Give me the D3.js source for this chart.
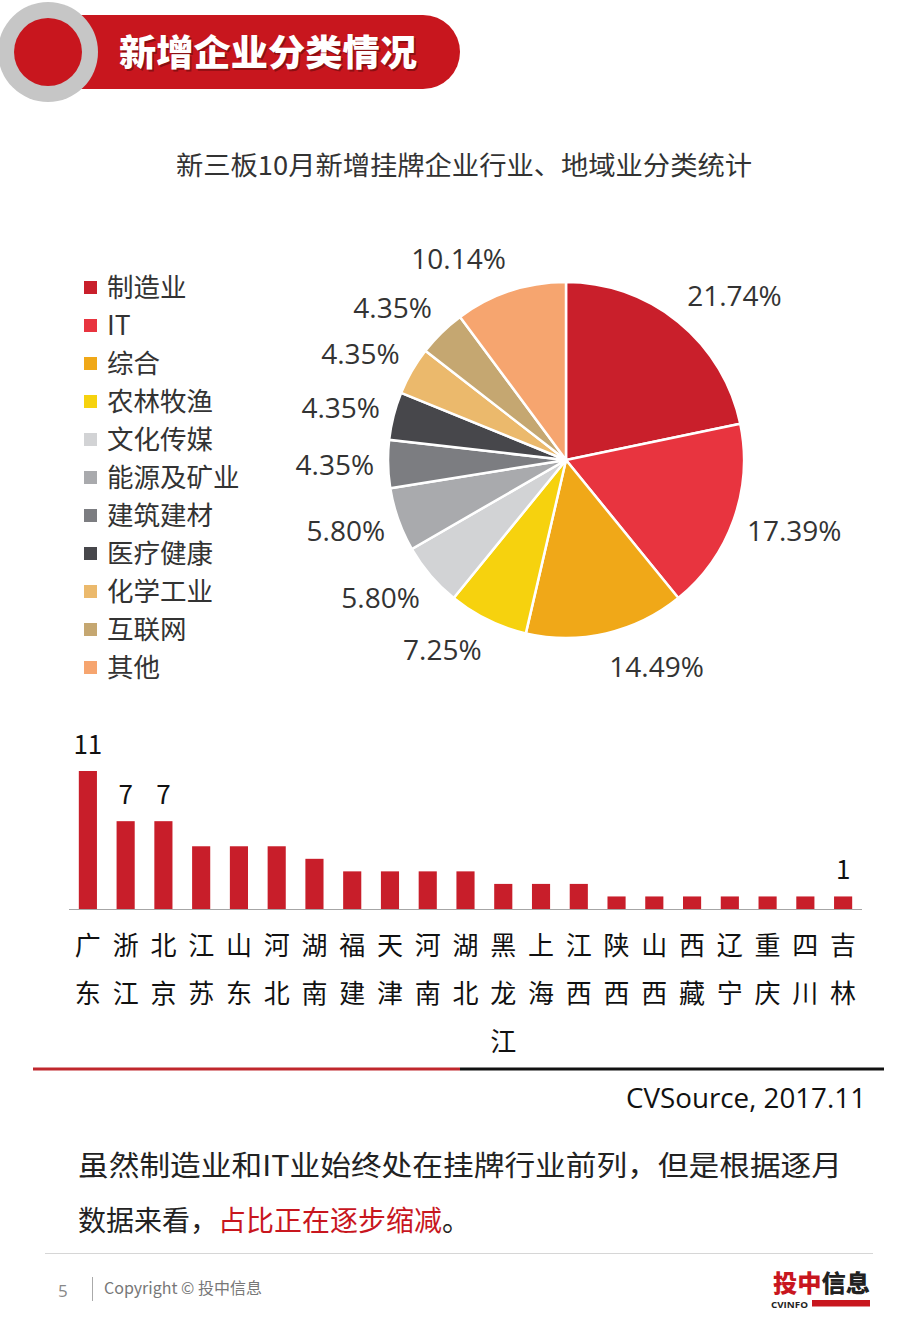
<!DOCTYPE html>
<html><head><meta charset="utf-8">
<script src="https://cdn.jsdelivr.net/npm/d3@7"></script>
<style>
html,body{margin:0;padding:0;background:#fff;}
svg{display:block;}
</style></head>
<body>
<svg id="c" width="920" height="1329"></svg>
<script>
// ---- data ----
const industries = ["制造业","IT","综合","农林牧渔","文化传媒","能源及矿业","建筑建材","医疗健康","化学工业","互联网","其他"];
const industryCounts = [15,12,10,5,4,4,3,3,3,3,7];
const industryColors = ["#c91f2b","#e8343f","#f0a818","#f6d20e","#d2d3d5","#a9aaad","#7c7d81","#47474b","#ebb96c","#c5a771","#f6a56f"];
const provinces = ["广东","浙江","北京","江苏","山东","河北","湖南","福建","天津","河南","湖北","黑龙江","上海","江西","陕西","山西","西藏","辽宁","重庆","四川","吉林"];
const provinceCounts = [11,7,7,5,5,5,4,3,3,3,3,2,2,2,1,1,1,1,1,1,1];
const labelledBars = ["广东","浙江","北京","吉林"];

const CJK = "'Noto Sans CJK SC','Noto Sans',sans-serif";
const NUM = "'Open Sans','Noto Sans',sans-serif";
const svg = d3.select("#c");

// ---- header ----
const hdr = svg.append("g");
hdr.append("path")
  .attr("d","M80,15 H423 A37,37 0 0 1 423,89 H80 Z")
  .attr("fill","#c8161e");
hdr.append("circle").attr("cx",48).attr("cy",52).attr("r",50).attr("fill","#c6c6c6");
hdr.append("circle").attr("cx",48).attr("cy",52).attr("r",34).attr("fill","#c8161e");
[["#5a0a0a",0.55,1.5],["#fff",1,0]].forEach(([c,o,off])=>{
  hdr.append("text").attr("x",119+off).attr("y",66+off)
    .attr("font-family",CJK).attr("font-weight",900).attr("font-size",36)
    .attr("textLength",298).attr("lengthAdjust","spacingAndGlyphs")
    .attr("fill",c).attr("opacity",o).text("新增企业分类情况");
});

// ---- chart title ----
svg.append("text").attr("x",464).attr("y",175).attr("text-anchor","middle")
  .attr("font-family",CJK).attr("font-size",26).attr("fill","#333")
  .attr("textLength",576).attr("lengthAdjust","spacingAndGlyphs")
  .text("新三板10月新增挂牌企业行业、地域业分类统计");

// ---- legend ----
const leg = svg.append("g");
const legY = d3.scalePoint().domain(industries).range([287,667]);
industries.forEach((name,i)=>{
  const y = legY(name);
  leg.append("rect").attr("x",84).attr("y",y-6).attr("width",13).attr("height",13).attr("fill",industryColors[i]);
  leg.append("text").attr("x",107).attr("y",y+10).attr("font-family",CJK).attr("font-size",26.5)
    .attr("fill","#333").text(name);
});

// ---- pie ----
const total = d3.sum(industryCounts);
const cx = 566, cy = 460, R = 178;
const pie = d3.pie().sort(null).value(d=>d.v);
const arcs = pie(industries.map((n,i)=>({n,v:industryCounts[i],c:industryColors[i]})));
const arc = d3.arc().innerRadius(0).outerRadius(R);
const pg = svg.append("g").attr("transform",`translate(${cx},${cy})`);
pg.selectAll("path").data(arcs).join("path")
  .attr("d",arc).attr("fill",d=>d.data.c).attr("stroke","#fff").attr("stroke-width",2.5);
const lbl = pg.selectAll("text").data(arcs).join("text")
  .attr("text-anchor","middle").attr("dy","0.36em")
  .attr("font-family",NUM).attr("font-size",28).attr("fill","#333")
  .text(d=>(d.data.v/total*100).toFixed(2)+"%");
lbl.each(function(d){
  const w = this.getComputedTextLength();
  const a = (d.startAngle+d.endAngle)/2;
  const s = Math.sin(a), c = Math.cos(a);
  const r = R + 14;
  const px = s*r + Math.sign(s)*w/2;
  const py = -c*r - c*20;
  d3.select(this).attr("x",px).attr("y",py);
});

// ---- bar chart ----
const x = d3.scaleBand().domain(provinces).range([69,862]).paddingInner(0.52).paddingOuter(0.26);
const y = d3.scaleLinear().domain([0,11]).range([909,771]);
const bg = svg.append("g");
bg.selectAll("rect").data(provinces).join("rect")
  .attr("x",d=>x(d)).attr("y",(d,i)=>y(provinceCounts[i]))
  .attr("width",x.bandwidth()).attr("height",(d,i)=>y(0)-y(provinceCounts[i]))
  .attr("fill","#c81e2a");
bg.append("line").attr("x1",69).attr("x2",862).attr("y1",909.5).attr("y2",909.5)
  .attr("stroke","#a6a6a6").attr("stroke-width",1.2);
provinces.forEach((p,i)=>{
  const xc = x(p)+x.bandwidth()/2;
  if(labelledBars.includes(p)){
    bg.append("text").attr("x",xc).attr("y",y(provinceCounts[i])-17).attr("text-anchor","middle")
      .attr("font-family",CJK).attr("font-size",26).attr("fill","#111").text(provinceCounts[i]);
  }
  const t = bg.append("text").attr("text-anchor","middle").attr("font-family",CJK)
    .attr("font-size",26).attr("fill","#111");
  Array.from(p).forEach((ch,k)=>{
    t.append("tspan").attr("x",xc).attr("y",955+k*48).text(ch);
  });
});

// ---- divider & source ----
svg.append("line").attr("x1",33).attr("x2",460).attr("y1",1069).attr("y2",1069).attr("stroke","#c0272d").attr("stroke-width",3);
svg.append("line").attr("x1",460).attr("x2",884).attr("y1",1069).attr("y2",1069).attr("stroke","#111").attr("stroke-width",3);
svg.append("text").attr("x",866).attr("y",1108).attr("text-anchor","end")
  .attr("font-family",NUM).attr("font-size",27).attr("fill","#111")
  .attr("textLength",240).attr("lengthAdjust","spacingAndGlyphs").text("CVSource, 2017.11");

// ---- paragraph ----
svg.append("text").attr("x",78).attr("y",1176).attr("font-family",CJK).attr("font-size",28)
  .attr("fill","#222").attr("textLength",764).attr("lengthAdjust","spacingAndGlyphs")
  .text("虽然制造业和IT业始终处在挂牌行业前列，但是根据逐月");
const p2 = svg.append("text").attr("x",78).attr("y",1231).attr("font-family",CJK).attr("font-size",28).attr("fill","#222");
p2.append("tspan").text("数据来看，");
p2.append("tspan").attr("fill","#c8161e").text("占比正在逐步缩减");
p2.append("tspan").text("。");

// ---- footer ----
svg.append("line").attr("x1",45).attr("x2",873).attr("y1",1253.5).attr("y2",1253.5).attr("stroke","#d6d6d6").attr("stroke-width",1);
svg.append("text").attr("x",58).attr("y",1297).attr("font-family",NUM).attr("font-size",17).attr("fill","#888").text("5");
svg.append("line").attr("x1",92.5).attr("x2",92.5).attr("y1",1277).attr("y2",1301).attr("stroke","#aaa");
svg.append("text").attr("x",104).attr("y",1294).attr("font-family",CJK).attr("font-size",16).attr("fill","#777").text("Copyright © 投中信息");
const logo = svg.append("g");
const lt = logo.append("text").attr("x",773).attr("y",1292).attr("font-family",CJK).attr("font-weight",900).attr("font-size",24)
  .attr("textLength",97).attr("lengthAdjust","spacingAndGlyphs");
lt.append("tspan").attr("fill","#c8161e").text("投中");
lt.append("tspan").attr("fill","#222").text("信息");
logo.append("text").attr("x",771).attr("y",1307.5).attr("font-family",NUM).attr("font-weight",700).attr("font-size",8.5)
  .attr("textLength",37).attr("lengthAdjust","spacingAndGlyphs").attr("fill","#222").text("CVINFO");
logo.append("rect").attr("x",812).attr("y",1300).attr("width",58).attr("height",6.5).attr("fill","#c8161e");
</script>
</body></html>
